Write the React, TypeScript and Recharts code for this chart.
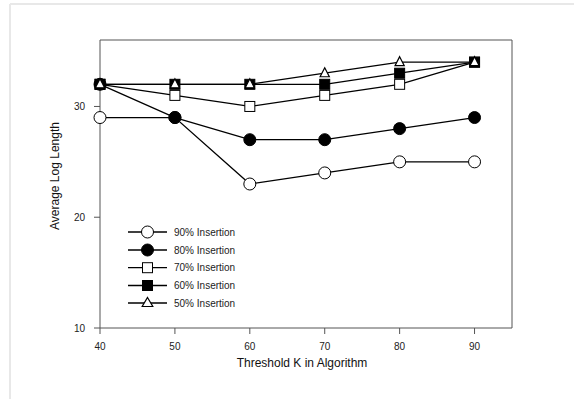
import React from "react";
import {
  LineChart,
  Line,
  XAxis,
  YAxis,
  ReferenceLine,
} from "recharts";

// threshold K values on the x axis
const thresholds = [40, 50, 60, 70, 80, 90];

// average log length per insertion ratio
const ins90 = [29, 29, 23, 24, 25, 25];
const ins80 = [32, 29, 27, 27, 28, 29];
const ins70 = [32, 31, 30, 31, 32, 34];
const ins60 = [32, 32, 32, 32, 33, 34];
const ins50 = [32, 32, 32, 33, 34, 34];

const xTicks = [40, 50, 60, 70, 80, 90];
const yTicks = [10, 20, 30];

const seriesNames = [
  "90% Insertion",
  "80% Insertion",
  "70% Insertion",
  "60% Insertion",
  "50% Insertion",
];

const chartData = thresholds.map((k, i) => ({
  k,
  i90: ins90[i],
  i80: ins80[i],
  i70: ins70[i],
  i60: ins60[i],
  i50: ins50[i],
}));

type Shape = "circle" | "square" | "triangle";

const series: { key: string; name: string; shape: Shape; fill: string }[] = [
  { key: "i90", name: seriesNames[0], shape: "circle", fill: "#fff" },
  { key: "i80", name: seriesNames[1], shape: "circle", fill: "#000" },
  { key: "i70", name: seriesNames[2], shape: "square", fill: "#fff" },
  { key: "i60", name: seriesNames[3], shape: "square", fill: "#000" },
  { key: "i50", name: seriesNames[4], shape: "triangle", fill: "#fff" },
];

const font = "'Liberation Sans', Arial, sans-serif";

function Marker({ cx, cy, shape, fill, big }: { cx: number; cy: number; shape: Shape; fill: string; big?: boolean }) {
  if (shape === "circle") {
    return <circle cx={cx} cy={cy} r={6} fill={fill} stroke="#000" strokeWidth={1} />;
  }
  if (shape === "square") {
    return <rect x={cx - 5} y={cy - 5} width={10} height={10} fill={fill} stroke="#000" strokeWidth={1} />;
  }
  const w = big ? 5.3 : 4.6;
  return (
    <polygon
      points={`${cx},${cy - 5.5} ${cx + w},${cy + 3.5} ${cx - w},${cy + 3.5}`}
      fill={fill}
      stroke="#000"
      strokeWidth={1.2}
    />
  );
}

function makeDot(shape: Shape, fill: string) {
  return (props: any) => {
    const { cx, cy, index } = props;
    if (cx == null || cy == null) return <g key={index} />;
    return (
      <g key={`${shape}-${fill}-${index}`}>
        <Marker cx={cx} cy={cy} shape={shape} fill={fill} />
      </g>
    );
  };
}

function LegendBox() {
  const rowY = [232, 250, 267.7, 285.5, 303];
  return (
    <svg
      width={574}
      height={399}
      style={{ position: "absolute", left: 0, top: 0, pointerEvents: "none" }}
    >
      <line x1={10} y1={4} x2={574} y2={4} stroke="#e8e8e8" strokeWidth={2} />
      <line x1={10} y1={4} x2={10} y2={399} stroke="#e8e8e8" strokeWidth={2} />
      {series.map((s, i) => (
        <g key={s.key}>
          <line x1={128} y1={rowY[i]} x2={167} y2={rowY[i]} stroke="#000" strokeWidth={1.3} />
          <Marker cx={147.5} cy={rowY[i]} shape={s.shape} fill={s.fill} big />
          <text
            x={174}
            y={rowY[i] + 3.5}
            fontSize={10}
            fontFamily={font}
            fill="#222"
          >
            {s.name}
          </text>
        </g>
      ))}
    </svg>
  );
}

export default function App() {
  return (
    <div
      style={{
        position: "absolute",
        left: 0,
        top: 0,
        width: 574,
        height: 399,
        background: "#fff",
      }}
    >
      <LineChart
        width={574}
        height={399}
        data={chartData}
        margin={{ top: 40, right: 62, bottom: 0, left: 0 }}
      >
        <XAxis
          dataKey="k"
          type="number"
          domain={[40, 95]}
          ticks={xTicks}
          height={71}
          tickSize={6}
          tickMargin={9}
          stroke="#555"
          tick={{ fontSize: 10, fontFamily: font, fill: "#222" }}
          label={{
            content: () => (
              <text
                x={302}
                y={367}
                textAnchor="middle"
                fontSize={12}
                fontFamily={font}
                fill="#111"
              >
                Threshold K in Algorithm
              </text>
            ),
          }}
        />
        <YAxis
          type="number"
          domain={[10, 36]}
          ticks={yTicks}
          width={100}
          tickSize={6}
          tickMargin={9}
          stroke="#555"
          tick={{ fontSize: 10, fontFamily: font, fill: "#222" }}
          label={{
            content: () => (
              <text
                x={59}
                y={176}
                transform="rotate(-90 59 176)"
                textAnchor="middle"
                fontSize={12}
                fontFamily={font}
                fill="#111"
              >
                Average Log Length
              </text>
            ),
          }}
        />
        <ReferenceLine y={36} stroke="#555" />
        <ReferenceLine x={95} stroke="#555" />
        {series.map((s) => (
          <Line
            key={s.key}
            dataKey={s.key}
            name={s.name}
            type="linear"
            stroke="#000"
            strokeWidth={1.3}
            dot={makeDot(s.shape, s.fill)}
            activeDot={false}
            isAnimationActive={false}
          />
        ))}
      </LineChart>
      <LegendBox />
    </div>
  );
}
